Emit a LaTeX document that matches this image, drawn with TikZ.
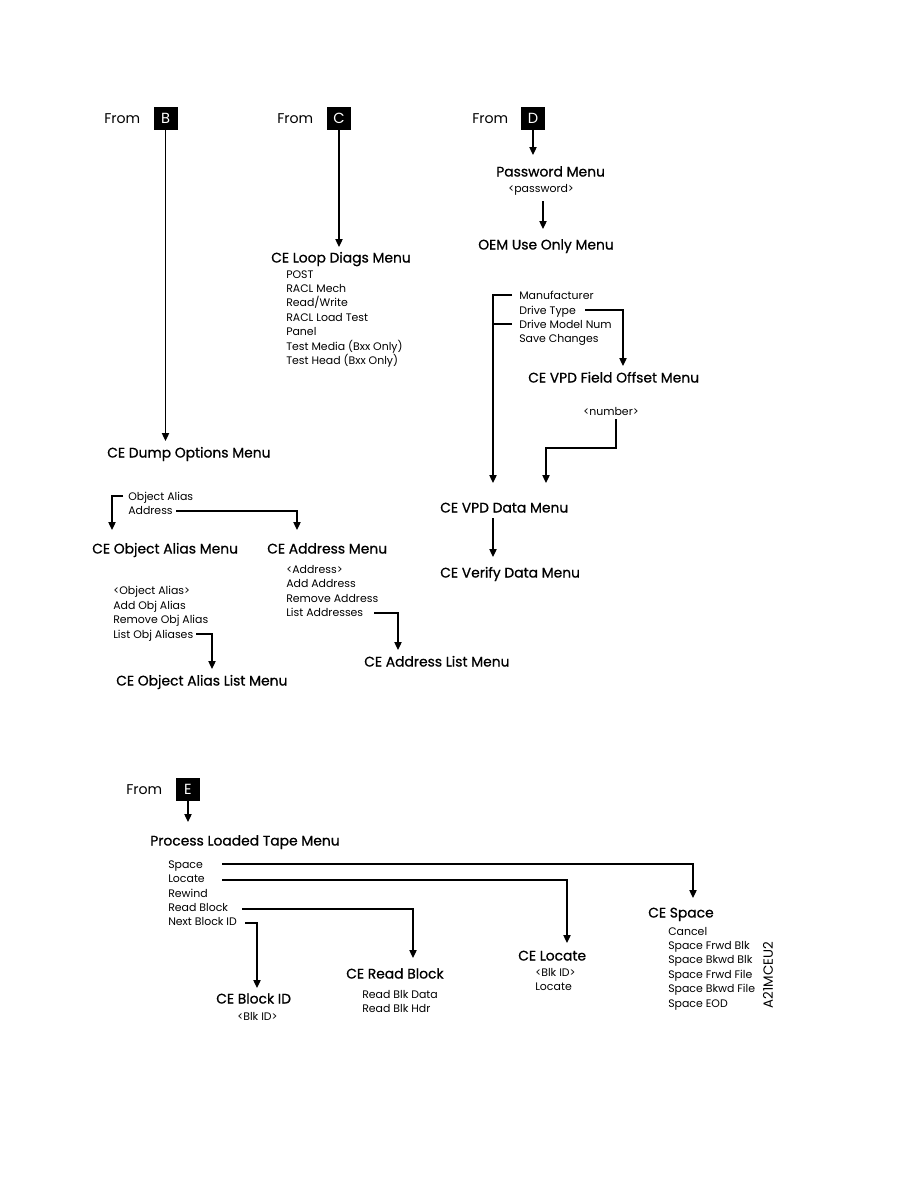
\documentclass[tikz,border=0pt]{standalone}
\usepackage{fontspec}
\setmainfont{Poppins}
\newfontfamily\titlef[FakeBold=0.8]{Poppins}
\usetikzlibrary{arrows.meta}
\begin{document}
\begin{tikzpicture}[x=0.75pt,y=-0.75pt,
 title/.style={anchor=base west,inner sep=0,font=\titlef\fontsize{10.4}{12}\selectfont},
 item/.style={anchor=base west,inner sep=0,font=\fontsize{8.2}{10}\selectfont},
 fromlbl/.style={anchor=base west,inner sep=0,font=\fontsize{10.6}{12}\selectfont},
 letterbox/.style={fill=black,text=white,minimum width=18pt,minimum height=17.25pt,inner sep=0,font=\fontsize{11}{12}\selectfont},
 arr/.style={line width=0.9pt,-{Triangle[length=6pt,width=5.5pt]}},
 ln/.style={line width=0.9pt}]
\useasboundingbox (0,0) rectangle (918,1188);

% ---------- From B ----------
\node[fromlbl] (fromB) at (104,123) {From};
\node[letterbox] (boxB) at (165.5,118) {B};
\node[title] (dump) at (107,457.5) {CE Dump Options Menu};
\coordinate (tipB) at (165.5,441);
\draw[arr] (boxB.south) -- (tipB);

\node[item] (oa) at (128,500) {Object Alias};
\node[item] (ad) at (128,514) {Address};
\coordinate (oaS) at (123,496);
\coordinate (oaT) at (112,530);
\draw[arr] (oaS) -| (oaT);
\coordinate (adS) at (176,511);
\coordinate (adT) at (297,530);
\draw[arr] (adS) -| (adT);

\node[title] (oamenu) at (92,553.5) {CE Object Alias Menu};
\node[title] (admenu) at (267,553.5) {CE Address Menu};

\node[item] (oa1) at (113,594) {<Object Alias>};
\node[item] (oa2) at (113,609) {Add Obj Alias};
\node[item] (oa3) at (113,623) {Remove Obj Alias};
\node[item] (oa4) at (113,638) {List Obj Aliases};
\coordinate (oa4S) at (196,634);
\coordinate (oa4T) at (212,669);
\draw[arr] (oa4S) -| (oa4T);
\node[title] (oalist) at (116,685.5) {CE Object Alias List Menu};

\node[item] (ad1) at (286,573) {<Address>};
\node[item] (ad2) at (286,587) {Add Address};
\node[item] (ad3) at (286,602) {Remove Address};
\node[item] (ad4) at (286,616) {List Addresses};
\coordinate (ad4S) at (374,613);
\coordinate (ad4T) at (398,650);
\draw[arr] (ad4S) -| (ad4T);
\node[title] (adlist) at (364,666.5) {CE Address List Menu};

% ---------- From C ----------
\node[fromlbl] (fromC) at (277,123) {From};
\node[letterbox] (boxC) at (339,118) {C};
\node[title] (loop) at (271,262.5) {CE Loop Diags Menu};
\coordinate (tipC) at (339,247);
\draw[arr] (boxC.south) -- (tipC);
\foreach \t [count=\i from 0] in {POST,RACL Mech,Read/Write,RACL Load Test,Panel,Test Media (Bxx Only),Test Head (Bxx Only)}
  \node[item] (loop\i) at (286,{278+14.4*\i}) {\t};

% ---------- From D ----------
\node[fromlbl] (fromD) at (472,123) {From};
\node[letterbox] (boxD) at (533,118) {D};
\node[title] (pwd) at (496,176.5) {Password Menu};
\coordinate (tipD) at (533,155);
\draw[arr] (boxD.south) -- (tipD);
\node[item] (pwd1) at (508,192) {<password>};
\coordinate (pwdS) at (543,201);
\coordinate (pwdT) at (543,229);
\draw[arr] (pwdS) -- (pwdT);
\node[title] (oem) at (478,249.5) {OEM Use Only Menu};

\node[item] (oem1) at (519,299) {Manufacturer};
\node[item] (oem2) at (519,314) {Drive Type};
\node[item] (oem3) at (519,328) {Drive Model Num};
\node[item] (oem4) at (519,342) {Save Changes};
\coordinate (oem1S) at (512,295);
\coordinate (oem3S) at (512,324);
\coordinate (vpdT1) at (493,483);
\draw[arr] (oem1S) -| (vpdT1);
\draw[ln] (oem3S) -- (oem3S -| vpdT1);
\coordinate (oem2S) at (585,310);
\coordinate (oem2T) at (623,366);
\draw[arr] (oem2S) -| (oem2T);
\node[title] (vpdfo) at (528,382.5) {CE VPD Field Offset Menu};

\node[item] (num) at (583,415) {<number>};
\coordinate (numS) at (616,419);
\coordinate (numB) at (616,448);
\coordinate (vpdT2) at (546,483);
\draw[arr] (numS) -- (numB) -| (vpdT2);

\node[title] (vpd) at (440,512.5) {CE VPD Data Menu};
\coordinate (vpdS) at (493,518);
\coordinate (verT) at (493,557);
\draw[arr] (vpdS) -- (verT);
\node[title] (verify) at (440,577.5) {CE Verify Data Menu};

% ---------- From E ----------
\node[fromlbl] (fromE) at (126,794) {From};
\node[letterbox] (boxE) at (188,789) {E};
\node[title] (plt) at (150,845.5) {Process Loaded Tape Menu};
\coordinate (tipE) at (188,822);
\draw[arr] (boxE.south) -- (tipE);

\node[item] (plt1) at (168,868) {Space};
\node[item] (plt2) at (168,882) {Locate};
\node[item] (plt3) at (168,897) {Rewind};
\node[item] (plt4) at (168,911) {Read Block};
\node[item] (plt5) at (168,925) {Next Block ID};

\coordinate (spS) at (222,864);
\coordinate (spT) at (693,898);
\draw[arr] (spS) -| (spT);
\coordinate (loS) at (222,880);
\coordinate (loT) at (567,943);
\draw[arr] (loS) -| (loT);
\coordinate (rbS) at (242,909);
\coordinate (rbT) at (413,958);
\draw[arr] (rbS) -| (rbT);
\coordinate (nbS) at (245,923);
\coordinate (nbT) at (257,988);
\draw[arr] (nbS) -| (nbT);

\node[title] (cespace) at (648,917.5) {CE Space};
\foreach \t [count=\i from 0] in {Cancel,Space Frwd Blk,Space Bkwd Blk,Space Frwd File,Space Bkwd File,Space EOD}
  \node[item] (sp\i) at (668,{935+14.4*\i}) {\t};

\node[title] (celoc) at (518,960.5) {CE Locate};
\node[item] (loc1) at (535,976) {<Blk ID>};
\node[item] (loc2) at (535,990) {Locate};

\node[title] (cerb) at (346,978.5) {CE Read Block};
\node[item] (rb1) at (362,998) {Read Blk Data};
\node[item] (rb2) at (362,1012) {Read Blk Hdr};

\node[title] (ceblk) at (216,1003.5) {CE Block ID};
\node[item] (blk1) at (237,1020) {<Blk ID>};

\node[rotate=90,inner sep=0,font=\fontsize{10}{12}\selectfont] (code) at (768,975) {A21MCEU2};
\end{tikzpicture}
\end{document}
